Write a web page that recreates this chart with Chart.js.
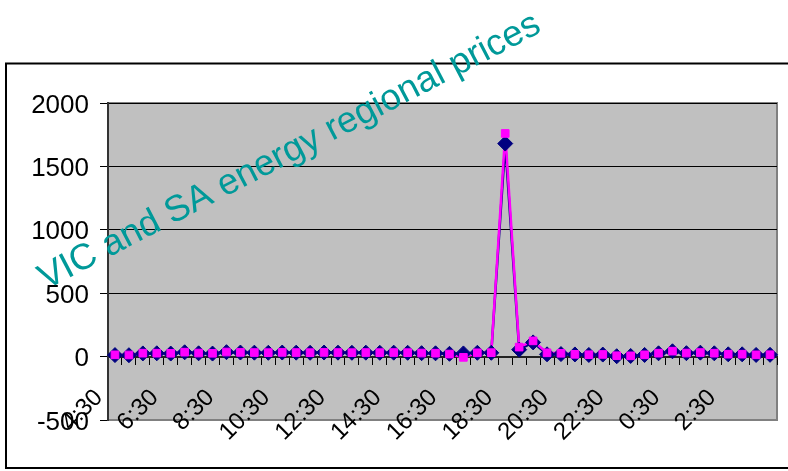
<!DOCTYPE html>
<html>
<head>
<meta charset="utf-8">
<script src="https://cdn.jsdelivr.net/npm/chart.js@4/dist/chart.umd.min.js"></script>
<style>
  html, body { margin: 0; padding: 0; background: #fff; }
  #wrap { position: relative; width: 788px; height: 471px; }
</style>
</head>
<body>
<div id="wrap"><canvas id="chart" width="788" height="471"></canvas></div>
<script>
// Half-hourly trading intervals, 4:30 through to 4:00 the next morning
const times = [
  '4:30','5:00','5:30','6:00','6:30','7:00','7:30','8:00','8:30','9:00',
  '9:30','10:00','10:30','11:00','11:30','12:00','12:30','13:00','13:30','14:00',
  '14:30','15:00','15:30','16:00','16:30','17:00','17:30','18:00','18:30','19:00',
  '19:30','20:00','20:30','21:00','21:30','22:00','22:30','23:00','23:30','0:00',
  '0:30','1:00','1:30','2:00','2:30','3:00','3:30','4:00'
];

// Regional prices ($/MWh)
const vicPrices = [
  12, 11, 25, 26, 24, 34, 26, 24, 35, 32,
  31, 30, 32, 31, 30, 32, 31, 30, 31, 30,
  31, 30, 27, 26, 22, 25, 30, 30, 1680, 55,
  112, 18, 20, 17, 13, 16, 3, 5, 13, 26,
  42, 27, 31, 26, 18, 18, 13, 14
];
const saPrices = [
  14, 13, 27, 27, 26, 35, 28, 26, 36, 33,
  32, 31, 33, 32, 31, 33, 32, 31, 32, 31,
  32, 31, 28, 27, 20, -6, 30, 31, 1760, 75,
  124, 30, 26, 18, 15, 17, 7, 6, 14, 27,
  43, 28, 32, 27, 19, 19, 14, 15
];

// Value axis ticks
const yTicks = [-500, 0, 500, 1000, 1500, 2000];
const labelEvery = 4;
const titleText = 'VIC and SA energy regional prices';

const FONT = "'Liberation Sans', Arial, sans-serif";
const NAVY = '#000080';
const MAGENTA = '#FF00FF';

// Grey plot area with its frame, and the outer chart frame
const plotFrame = {
  id: 'plotFrame',
  beforeDraw(chart) {
    const { ctx, chartArea: a } = chart;
    ctx.save();
    ctx.fillStyle = '#C0C0C0';
    ctx.fillRect(a.left, a.top, a.right - a.left, a.bottom - a.top);
    ctx.strokeStyle = '#808080';
    ctx.lineWidth = 2;
    ctx.beginPath();
    ctx.moveTo(a.left, a.top);
    ctx.lineTo(a.right, a.top);
    ctx.lineTo(a.right, a.bottom);
    ctx.lineTo(a.left, a.bottom);
    ctx.stroke();
    ctx.strokeStyle = '#000';
    ctx.lineWidth = 2;
    ctx.strokeRect(6, 63.5, 786, 404.5);
    ctx.restore();
  }
};

// Slanted chart title drawn over the plot
const slantTitle = {
  id: 'slantTitle',
  afterDraw(chart) {
    const { ctx } = chart;
    ctx.save();
    ctx.translate(46, 290);
    ctx.rotate(-27.5 * Math.PI / 180);
    ctx.font = '36.5px ' + FONT;
    ctx.fillStyle = '#009999';
    ctx.textAlign = 'left';
    ctx.textBaseline = 'alphabetic';
    ctx.fillText(titleText, 0, 0);
    ctx.restore();
  }
};

new Chart(document.getElementById('chart'), {
  type: 'line',
  data: {
    labels: times,
    datasets: [
      { label: 'VIC', data: vicPrices, borderColor: NAVY, borderWidth: 2.5,
        pointRadius: 0, pointHoverRadius: 0, order: 4 },
      { label: 'SA', data: saPrices, borderColor: MAGENTA, borderWidth: 2.5,
        pointRadius: 0, pointHoverRadius: 0, order: 3 },
      { label: 'VIC', data: vicPrices, showLine: false, pointStyle: 'rectRot',
        pointRadius: 7.5, pointBackgroundColor: NAVY, pointBorderColor: NAVY,
        pointBorderWidth: 1, order: 2 },
      { label: 'SA', data: saPrices, showLine: false, pointStyle: 'rect',
        pointRadius: 5.4, pointBackgroundColor: MAGENTA, pointBorderColor: MAGENTA,
        pointBorderWidth: 1, order: 1 }
    ]
  },
  options: {
    responsive: false,
    animation: false,
    devicePixelRatio: 1,
    layout: { padding: { left: 0, top: 103, right: 11, bottom: 51 } },
    plugins: { legend: { display: false }, tooltip: { enabled: false } },
    events: [],
    scales: {
      x: {
        type: 'category',
        position: { y: 0 },
        offset: true,
        grid: { display: true, offset: true, drawOnChartArea: false, drawTicks: true,
                tickLength: 7, tickColor: '#000', tickWidth: 1 },
        border: { display: true, color: '#222', width: 2 },
        ticks: {
          autoSkip: false, minRotation: 45, maxRotation: 45,
          padding: 20, labelOffset: -16,
          color: '#000', font: { family: FONT, size: 24 },
          callback: (v, i) => (i % labelEvery === 0 ? times[i] : '')
        },
        afterFit(scale) { scale.paddingLeft = 0; scale.paddingRight = 0; }
      },
      y: {
        position: 'left',
        min: -500, max: 2000,
        afterBuildTicks(scale) { scale.ticks = yTicks.map(v => ({ value: v })); },
        grid: {
          color: ctx => (ctx.tick && ctx.tick.value === -500 ? '#808080' : '#000'),
          lineWidth: 1, tickLength: 8, tickColor: '#000', tickWidth: 1
        },
        border: { display: true, color: '#333', width: 2 },
        ticks: { padding: 11, labelOffset: 2.5, color: '#000',
                 font: { family: FONT, size: 26 },
                 callback: v => String(v) },
        afterFit(scale) { scale.width = 108; scale.paddingTop = 0; scale.paddingBottom = 0; }
      }
    }
  },
  plugins: [plotFrame, slantTitle]
});
</script>
</body>
</html>
